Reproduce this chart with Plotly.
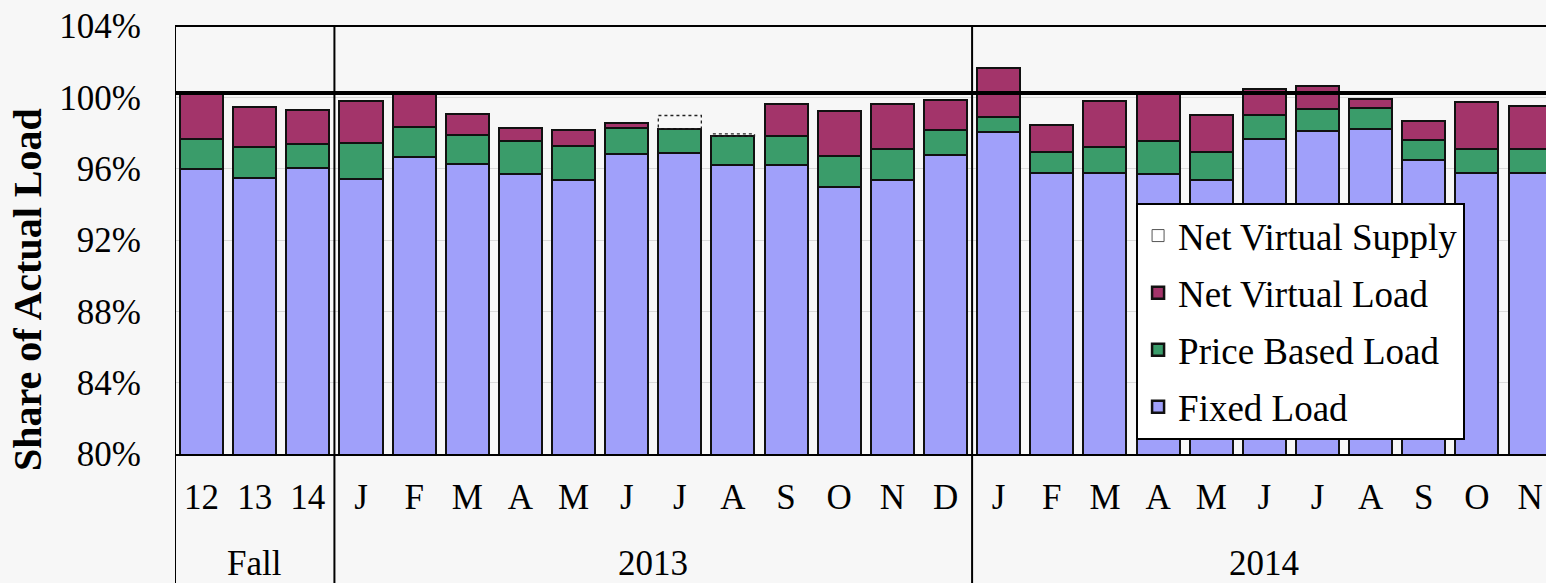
import plotly.graph_objects as go

# ---- data ----
months = ["12", "13", "14",
          "J", "F", "M", "A", "M", "J", "J", "A", "S", "O", "N", "D",
          "J", "F", "M", "A", "M", "J", "J", "A", "S", "O", "N"]
groups = ["Fall", "2013", "2014"]
group_sizes = [3, 12, 11]

fixed_load = [95.96, 95.49, 96.02,
              95.40, 96.65, 96.27, 95.68, 95.36, 96.83, 96.89, 96.18, 96.18, 94.97, 95.35, 96.76,
              98.04, 95.74, 95.74, 95.72, 95.36, 97.69, 98.10, 98.24, 96.48, 95.74, 95.74]
price_based_load = [1.73, 1.72, 1.34,
                    2.05, 1.69, 1.61, 1.86, 1.90, 1.46, 1.36, 1.64, 1.64, 1.73, 1.78, 1.40,
                    0.84, 1.20, 1.47, 1.82, 1.58, 1.34, 1.25, 1.17, 1.12, 1.39, 1.34]
net_virtual_load = [2.50, 2.25, 1.91,
                    2.33, 1.85, 1.19, 0.75, 0.90, 0.27, 0.00, 0.00, 1.81, 2.52, 2.50, 1.71,
                    2.76, 1.53, 2.57, 2.63, 2.09, 1.46, 1.26, 0.52, 1.06, 2.59, 2.42]
net_virtual_supply = [0, 0, 0,
                      0, 0, 0, 0, 0, 0, 0.73, 0.13, 0, 0, 0, 0,
                      0, 0, 0, 0, 0, 0, 0, 0, 0, 0, 0]
y_ticks = [80, 84, 88, 92, 96, 100, 104]
reference_level = 100.25

# ---- styles ----
FONT = "Liberation Serif, Times New Roman, serif"
C_FIXED = "#a0a0fa"
C_PRICE = "#3a9c6a"
C_NVL = "#a3346a"
BAR_W = 0.81
EDGE = dict(color="#111", width=2.5)

x = list(range(len(months)))

fig = go.Figure()
fig.add_trace(go.Bar(x=x, y=fixed_load, name="Fixed Load", width=BAR_W,
                     marker=dict(color=C_FIXED, line=EDGE),
                     legendgroup="a", legendrank=4))
fig.add_trace(go.Bar(x=x, y=price_based_load, name="Price Based Load", width=BAR_W,
                     marker=dict(color=C_PRICE, line=EDGE),
                     legendgroup="b", legendrank=3))
fig.add_trace(go.Bar(x=x, y=net_virtual_load, name="Net Virtual Load", width=BAR_W,
                     marker=dict(color=C_NVL, line=EDGE),
                     legendgroup="c", legendrank=2))

# Net virtual supply: hollow dashed boxes stacked on top
sx, sy = [], []
for i, v in enumerate(net_virtual_supply):
    if v > 0:
        base = fixed_load[i] + price_based_load[i] + net_virtual_load[i]
        l, r = i - BAR_W / 2, i + BAR_W / 2
        sx += [l, r, r, l, l, None]
        sy += [base, base, base + v, base + v, base, None]
fig.add_trace(go.Scatter(x=sx, y=sy, mode="lines", fill="toself",
                         fillcolor="rgba(255,255,255,0)",
                         line=dict(color="#222", width=1.3, dash="dot"),
                         name="Net Virtual Supply", showlegend=False))
# legend entry for net virtual supply
fig.add_trace(go.Bar(x=[None], y=[None], name="Net Virtual Supply",
                     marker=dict(color="rgba(255,255,255,1)", line=dict(color="#555", width=1)),
                     legendgroup="d", legendrank=1))

# reference line
fig.add_hline(y=reference_level, line=dict(color="black", width=4), layer="above")

n = len(months)
x_right = n - 0.5 - 0.2
shapes = []
shapes.append(dict(type="line", xref="paper", yref="paper", x0=0, x1=1, y0=1, y1=1,
                   line=dict(color="black", width=2)))
bounds = [-0.5]
acc = -0.5
for s in group_sizes:
    acc += s
    bounds.append(acc)
for b in bounds[:-1]:
    shapes.append(dict(type="line", xref="x", yref="paper", x0=b, x1=b, y0=1, y1=-0.32,
                       line=dict(color="black", width=2)))
fig.update_layout(shapes=list(fig.layout.shapes) + shapes)

# group labels
acc = -0.5
for g, s in zip(groups, group_sizes):
    fig.add_annotation(x=acc + s / 2, y=-0.255, xref="x", yref="paper", text=g,
                       showarrow=False, font=dict(family=FONT, size=35, color="black"),
                       xanchor="center", yanchor="middle")
    acc += s

# y title
fig.add_annotation(x=-0.108, y=0.3855, xref="paper", yref="paper",
                   text="<b>Share of Actual Load</b>", textangle=-90, showarrow=False,
                   font=dict(family=FONT, size=40, color="black"),
                   xanchor="center", yanchor="middle")

fig.update_layout(
    width=1546, height=583,
    margin=dict(l=175, r=0, t=26, b=129),
    paper_bgcolor="#f7f7f7", plot_bgcolor="#f7f7f7",
    barmode="stack", bargap=0,
    showlegend=True,
    legend=dict(x=0.701, y=0.5864, xanchor="left", yanchor="top",
                bgcolor="white", bordercolor="black", borderwidth=2,
                font=dict(family=FONT, size=37, color="black"),
                traceorder="grouped", tracegroupgap=6,
                itemwidth=30),
    xaxis=dict(range=[-0.5, x_right], tickmode="array", tickvals=x, ticktext=months,
               showgrid=False, zeroline=False, showline=True, linecolor="black", linewidth=2,
               ticks="", ticklabelstandoff=11,
               tickfont=dict(family=FONT, size=35, color="black")),
    yaxis=dict(range=[80, 104], tickmode="array", tickvals=y_ticks,
               ticktext=[f"{v}%" for v in y_ticks],
               showgrid=True, gridcolor="#d9d9d9", gridwidth=1, zeroline=False,
               showline=False, ticks="", ticklabelstandoff=33,
               tickfont=dict(family=FONT, size=35, color="black")),
)

fig.write_html("out.html", config={"displayModeBar": False},
               post_script="document.body.style.margin='0';document.body.style.overflow='hidden';")
